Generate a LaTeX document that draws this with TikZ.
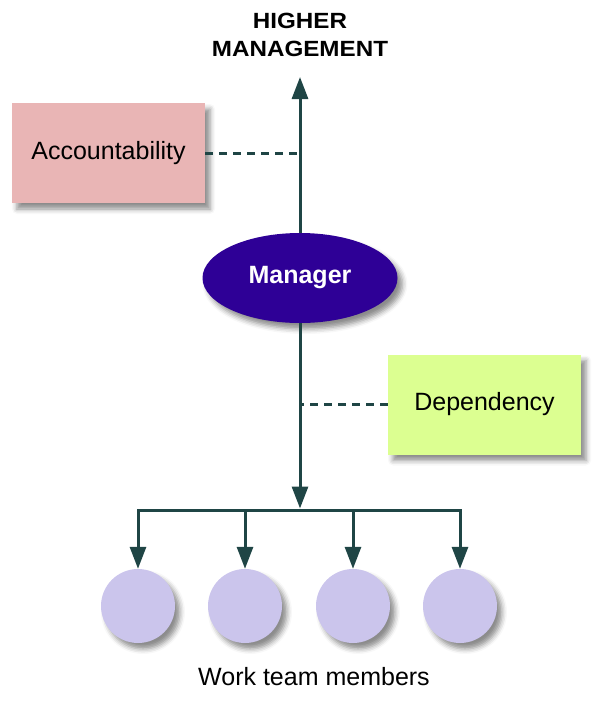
\documentclass[tikz,border=0pt]{standalone}
\usepackage{fontspec}
\setmainfont{Liberation Sans}
\usetikzlibrary{arrows.meta,shapes.geometric,shadows.blur}

\definecolor{linhacor}{HTML}{1F4545}
\definecolor{rosa}{HTML}{E9B5B5}
\definecolor{lima}{HTML}{DCFF91}
\definecolor{roxo}{HTML}{2E0096}
\definecolor{lilas}{HTML}{CBC5EC}

\begin{document}
\begin{tikzpicture}[x=1pt,y=-1pt,
        linha/.style={line width=3pt, draw=linhacor},
        seta/.style={linha, -{Triangle[length=22pt,width=16pt]}},
        tracejado/.style={linha, dash pattern=on 8pt off 6pt},
        sombra/.style={blur shadow={shadow xshift=5pt, shadow yshift=-6pt, shadow blur radius=5pt, shadow opacity=45}},
        caixa/.style={rectangle, minimum width=193pt, minimum height=100pt, sombra, font=\fontsize{25}{30}\selectfont},
        membro/.style={circle, fill=lilas, minimum size=74pt, inner sep=0pt, sombra}]
        \useasboundingbox (0,0) rectangle (598,702);

        % definir titulo e pontos
        \node[font=\bfseries\fontsize{22}{28}\selectfont, align=center, xscale=1.1] (topo) at (300,35) {HIGHER\\MANAGEMENT};
        \coordinate (cima) at (300,77);
        \coordinate (barra) at (300,510);

        % caixas e gerente
        \node[caixa, fill=rosa] (resp) at (108.5,153) {Accountability};
        \node[caixa, fill=lima] (dep) at (484.5,404.5) {Dependency};
        \node[ellipse, fill=roxo, minimum width=195pt, minimum height=90pt, sombra, text=white, font=\bfseries\fontsize{25}{30}\selectfont] (gerente) at (300,278) {Manager};

        % membros da equipa
        \foreach \x [count=\i] in {138,245,353,460}
            \node[membro] (m\i) at (\x,606) {};
        \node[font=\fontsize{25}{30}\selectfont] (legenda) at (314,677) {Work team members};

        % desenhar setas
        \draw[seta] (gerente.north) -- (cima);
        \draw[seta, shorten >=1.5pt] (gerente.south) -- (barra);
        \draw[linha, line cap=rect] (m1 |- barra) -- (m4 |- barra);
        \foreach \i in {1,...,4}
            \draw[seta] (m\i |- barra) -- (m\i.north);

        % linhas tracejadas
        \draw[tracejado] (resp.east) -- (resp.east -| gerente);
        \draw[tracejado] (dep.west) -- (dep.west -| gerente);
    \end{tikzpicture}
\end{document}
